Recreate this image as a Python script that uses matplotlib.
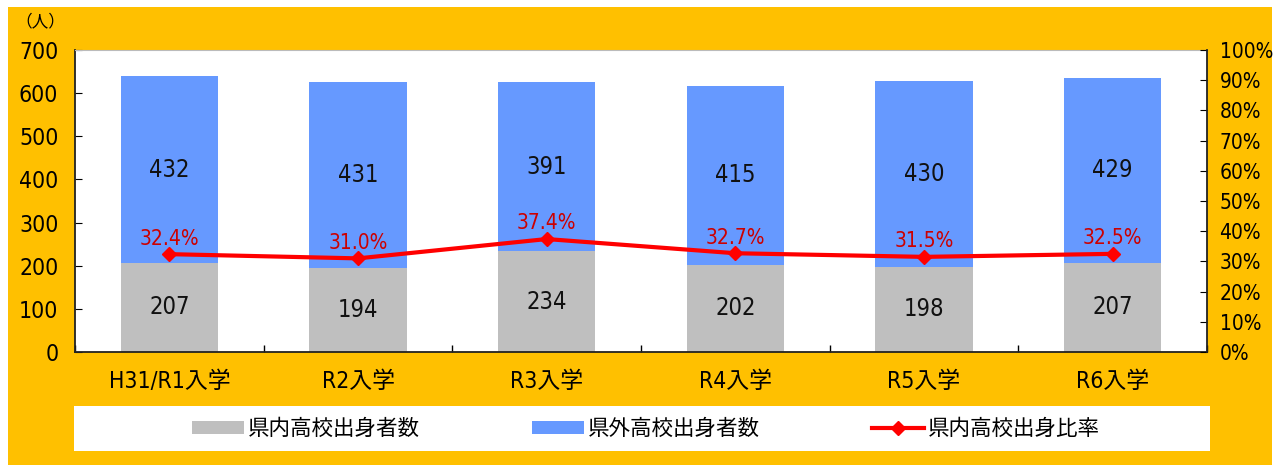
import matplotlib.pyplot as plt
import matplotlib.patches as mpatches
from matplotlib.ticker import FuncFormatter, MultipleLocator
import numpy as np

plt.rcParams['font.family'] = ['DejaVu Sans', 'Noto Sans CJK JP']

categories = ['H31/R1入学', 'R2入学', 'R3入学', 'R4入学', 'R5入学', 'R6入学']
inside = [207, 194, 234, 202, 198, 207]
outside = [432, 431, 391, 415, 430, 429]
ratio = [32.4, 31.0, 37.4, 32.7, 31.5, 32.5]

gold = '#FFC000'
gray = '#BFBFBF'
blue = '#6699FF'
red = '#FF0000'

fig = plt.figure(figsize=(12.79, 4.65), dpi=100)
fig.patch.set_facecolor('white')
fig.patches.append(mpatches.Rectangle((8 / 1279, 0), 1264 / 1279, 458 / 465,
                                      transform=fig.transFigure, facecolor=gold,
                                      edgecolor='none', zorder=-10))
# white legend box
fig.patches.append(mpatches.Rectangle((74 / 1279, 1 - 451 / 465), 1136 / 1279, 45 / 465,
                                      transform=fig.transFigure, facecolor='white',
                                      edgecolor='none', zorder=-5))

ax = fig.add_axes([75 / 1279, 1 - 352 / 465, 1132 / 1279, 302 / 465])
ax.set_facecolor('white')
x = np.arange(len(categories))
w = 0.515
b1 = ax.bar(x, inside, w, color=gray, label='県内高校出身者数', zorder=2)
b2 = ax.bar(x, outside, w, bottom=inside, color=blue, label='県外高校出身者数', zorder=2)

for xi, v in zip(x, inside):
    ax.text(xi, v / 2, str(v), ha='center', va='center', fontsize=17,
            fontstretch='condensed', color='#111111', zorder=5)
for xi, a, v in zip(x, inside, outside):
    ax.text(xi, a + v / 2, str(v), ha='center', va='center', fontsize=17,
            fontstretch='condensed', color='#111111', zorder=5)

ax.set_xlim(-0.5, len(categories) - 0.5)
ax.set_ylim(0, 700)
ax.yaxis.set_major_locator(MultipleLocator(100))
ax.set_xticks(x)
ax.set_xticklabels(categories, fontsize=16.5, fontstretch='condensed')
ax.set_xticks(np.arange(-0.5, len(categories)), minor=True)
ax.tick_params(axis='x', which='major', length=0, pad=13)
ax.tick_params(axis='x', which='minor', direction='in', length=5, width=1)
ax.tick_params(axis='y', direction='in', length=5, labelsize=16.5, pad=12)
for lab in ax.get_yticklabels():
    lab.set_fontstretch('condensed')
for s in ['left', 'bottom']:
    ax.spines[s].set_color('#222222')
    ax.spines[s].set_linewidth(1.3)
ax.spines['top'].set_color('#BBBBBB')
ax.spines['right'].set_visible(False)

ax2 = ax.twinx()
line, = ax2.plot(x, ratio, color=red, lw=3, marker='D', markersize=7,
                 label='県内高校出身比率', zorder=4)
ax2.set_ylim(0, 100)
ax2.yaxis.set_major_locator(MultipleLocator(10))
ax2.yaxis.set_major_formatter(FuncFormatter(lambda v, p: f'{v:.0f}%'))
ax2.tick_params(axis='y', direction='in', length=5, labelsize=15, pad=9)
for lab in ax2.get_yticklabels():
    lab.set_fontstretch('condensed')
ax2.spines['right'].set_color('#222222')
ax2.spines['right'].set_linewidth(1.3)
for s in ['left', 'top', 'bottom']:
    ax2.spines[s].set_visible(False)

for xi, r in zip(x, ratio):
    ax2.annotate(f'{r:.1f}%', (xi, r), xytext=(0, 4), textcoords='offset points',
                 ha='center', va='bottom', fontsize=15, color='#CC0000',
                 fontstretch='condensed', zorder=6)

fig.text(40 / 1279, 1 - 22 / 465, '（人）', ha='center', va='center', fontsize=12,
         family=['Noto Sans CJK JP'])

fig.legend(handles=[b1, b2, line], loc='center', bbox_to_anchor=(646 / 1279, 1 - 429 / 465),
           ncol=3, frameon=False, prop={'family': ['Noto Sans CJK JP'], 'size': 15.5},
           handlelength=2.4, handletextpad=0.2, columnspacing=5.2, handleheight=0.55)

fig.savefig('out.png', dpi=100, facecolor=fig.get_facecolor())
